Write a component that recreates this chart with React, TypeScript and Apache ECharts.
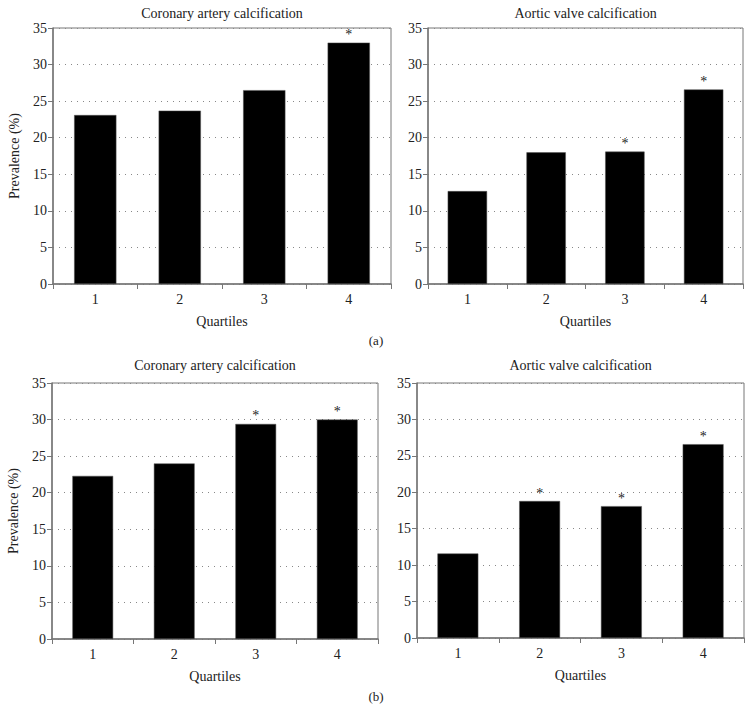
import React, { useEffect, useRef } from "react";
import * as echarts from "echarts";

const quartiles = ["1", "2", "3", "4"];
const cacA = [23.1, 23.7, 26.5, 33.0];
const avcA = [12.7, 18.0, 18.1, 26.6];
const cacB = [22.3, 24.0, 29.4, 30.0];
const avcB = [11.6, 18.8, 18.1, 26.6];
const starsCacA = [false, false, false, true];
const starsAvcA = [false, false, true, true];
const starsCacB = [false, false, true, true];
const starsAvcB = [false, true, true, true];
const panelTitles = ["Coronary artery calcification", "Aortic valve calcification"];
const yTitle = "Prevalence (%)";
const xTitle = "Quartiles";

const FONT = "Liberation Serif";

export default function App() {
  const ref = useRef<HTMLDivElement>(null);
  useEffect(() => {
    if (!ref.current) return;
    const chart = echarts.init(ref.current, undefined, { renderer: "svg" });
    const grids = [
      { left: 53, top: 28, width: 338, height: 256 },
      { left: 428, top: 28, width: 315, height: 256 },
      { left: 52, top: 383, width: 326, height: 256 },
      { left: 417, top: 383, width: 327, height: 255 },
    ];
    const datasets = [cacA, avcA, cacB, avcB];
    const stars = [starsCacA, starsAvcA, starsCacB, starsAvcB];
    const axisColor = "#777";
    const textStyle = { fontFamily: FONT, fontSize: 14, color: "#222" };
    const titleFont = `14px "${FONT}"`;
    const option: any = {
      animation: false,
      backgroundColor: "#fff",
      grid: grids.map((g) => ({ ...g, show: true, borderColor: axisColor, borderWidth: 1, backgroundColor: "transparent" })),
      xAxis: grids.map((_, i) => ({
        type: "category",
        gridIndex: i,
        data: quartiles,
        boundaryGap: true,
        name: xTitle,
        nameLocation: "middle",
        nameGap: 30,
        nameTextStyle: textStyle,
        axisLine: { lineStyle: { color: axisColor, width: 1.5 } },
        axisTick: { show: true, length: 5, inside: false, lineStyle: { color: axisColor } },
        axisLabel: { ...textStyle, margin: 8 },
        splitLine: { show: false },
      })),
      yAxis: grids.map((_, i) => ({
        type: "value",
        gridIndex: i,
        min: 0,
        max: 35,
        interval: 5,
        name: i % 2 === 0 ? yTitle : "",
        nameLocation: "middle",
        nameGap: 32,
        nameTextStyle: textStyle,
        axisLine: { show: true, lineStyle: { color: axisColor, width: 1.5 } },
        axisTick: { show: true, length: 5, lineStyle: { color: axisColor } },
        axisLabel: { ...textStyle, margin: 6 },
        splitLine: { show: true, lineStyle: { type: [1, 5], color: "#888", width: 1 } },
      })),
      series: datasets.map((d, i) => ({
        type: "bar",
        xAxisIndex: i,
        yAxisIndex: i,
        data: d,
        barWidth: "50%",
        itemStyle: { color: "#000", borderColor: "#555", borderWidth: 0.5 },
        label: {
          show: true,
          position: "top",
          distance: 1,
          formatter: (p: any) => (stars[i][p.dataIndex] ? "*" : ""),
          ...textStyle,
        },
      })),
      graphic: [
        { type: "text", x: 53 + 338 / 2, y: 6, style: { text: panelTitles[0], fill: "#222", font: titleFont, align: "center" } },
        { type: "text", x: 428 + 315 / 2, y: 6, style: { text: panelTitles[1], fill: "#222", font: titleFont, align: "center" } },
        { type: "text", x: 52 + 326 / 2, y: 358, style: { text: panelTitles[0], fill: "#222", font: titleFont, align: "center" } },
        { type: "text", x: 417 + 327 / 2, y: 358, style: { text: panelTitles[1], fill: "#222", font: titleFont, align: "center" } },
        { type: "text", x: 376, y: 334, style: { text: "(a)", fill: "#222", font: `13px "${FONT}"`, align: "center" } },
        { type: "text", x: 376, y: 690, style: { text: "(b)", fill: "#222", font: `13px "${FONT}"`, align: "center" } },
      ],
    };
    chart.setOption(option);
    return () => chart.dispose();
  }, []);
  return (
    <div
      ref={ref}
      style={{ position: "fixed", left: 0, top: 0, width: 752, height: 724, background: "#fff" }}
    />
  );
}
